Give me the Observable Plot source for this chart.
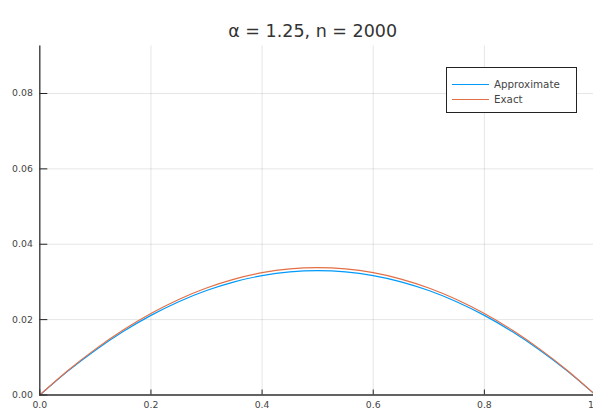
<!DOCTYPE html>
<html>
<head>
<meta charset="utf-8">
<script src="https://cdn.jsdelivr.net/npm/d3@7"></script>
<script src="https://cdn.jsdelivr.net/npm/@observablehq/plot@0.6"></script>
<style>
  body { margin: 0; background: #fff; }
  #wrap { position: relative; width: 593px; height: 409px; overflow: hidden; }
  #legend { position: absolute; left: 446px; top: 67px; width: 129px; height: 44px; border: 1px solid #222; background: #fff; font-family: "DejaVu Sans", sans-serif; font-size: 10.3px; color: #444; }
  .row { position: absolute; left: 0; height: 14px; }
  .sw { position: absolute; left: 5px; width: 37px; height: 1.3px; }
  .lb { position: absolute; left: 47px; white-space: nowrap; }
</style>
</head>
<body>
<div id="wrap"></div>
<script>
const title = "α = 1.25, n = 2000";
const seriesNames = ["Approximate", "Exact"];
const seriesColors = ["#009AFA", "#E36F47"];
const xs = [0, 0.05, 0.10, 0.15, 0.20, 0.25, 0.30, 0.35, 0.40, 0.45, 0.50,
            0.55, 0.60, 0.65, 0.70, 0.75, 0.80, 0.85, 0.90, 0.95, 1.00];
const approximate = [0, 0.00627, 0.01188, 0.01683, 0.02112, 0.02475, 0.02772, 0.03003, 0.03168, 0.03267, 0.03300,
                     0.03267, 0.03168, 0.03003, 0.02772, 0.02475, 0.02112, 0.01683, 0.01188, 0.00627, 0];
const exact = [0, 0.00642, 0.01217, 0.01724, 0.02163, 0.02535, 0.02839, 0.03076, 0.03245, 0.03346, 0.03380,
               0.03346, 0.03245, 0.03076, 0.02839, 0.02535, 0.02163, 0.01724, 0.01217, 0.00642, 0];
const xTicks = [0, 0.2, 0.4, 0.6, 0.8, 1.0];
const yTicks = [0, 0.02, 0.04, 0.06, 0.08];

const rows = [];
xs.forEach((x, i) => rows.push({x, y: approximate[i], s: seriesNames[0]}));
xs.forEach((x, i) => rows.push({x, y: exact[i], s: seriesNames[1]}));

const chart = Plot.plot({
  width: 593,
  height: 409,
  marginLeft: 39.3,
  marginRight: 0,
  marginTop: 45.5,
  marginBottom: 14.5,
  style: {fontFamily: "DejaVu Sans, sans-serif", fontSize: "9.3px", color: "#444", background: "#fff"},
  x: {domain: [0, 1], range: [39.3, 595]},
  y: {domain: [0, 0.0926], range: [394.5, 45.5]},
  color: {domain: seriesNames, range: seriesColors},
  marks: [
    Plot.gridX(xTicks, {stroke: "#000", strokeOpacity: 0.1, strokeWidth: 1}),
    Plot.gridY(yTicks, {stroke: "#000", strokeOpacity: 0.1, strokeWidth: 1}),
    Plot.line(rows, {x: "x", y: "y", z: "s", stroke: "s", strokeWidth: 1.2, curve: "natural"}),
    Plot.axisX(xTicks, {tickSize: -5, tickPadding: 11, tickFormat: d3.format(".1f"), label: null, stroke: "#222", fill: "#444"}),
    Plot.axisY(yTicks, {tickSize: -8, tickPadding: 15, tickFormat: d3.format(".2f"), label: null, stroke: "#222", fill: "#444"}),
    Plot.ruleX([0], {stroke: "#333", strokeWidth: 1.3}),
    Plot.ruleY([0], {stroke: "#333", strokeWidth: 1.3}),
    Plot.text([title], {text: d => d, frameAnchor: "top", lineAnchor: "bottom", dy: -9, dx: -4, fontSize: 17.5, fill: "#333"})
  ]
});

const wrap = document.getElementById("wrap");
wrap.appendChild(chart);

const legend = document.createElement("div");
legend.id = "legend";
const rowTops = [16, 31];
seriesNames.forEach((name, i) => {
  const row = document.createElement("div");
  row.className = "row";
  row.style.top = (rowTops[i] - 7) + "px";
  row.style.width = "129px";
  const sw = document.createElement("div");
  sw.className = "sw";
  sw.style.top = "6.5px";
  sw.style.background = seriesColors[i];
  const lb = document.createElement("div");
  lb.className = "lb";
  lb.style.top = "0px";
  lb.style.lineHeight = "14px";
  lb.textContent = name;
  row.appendChild(sw);
  row.appendChild(lb);
  legend.appendChild(row);
});
wrap.appendChild(legend);
</script>
</body>
</html>
